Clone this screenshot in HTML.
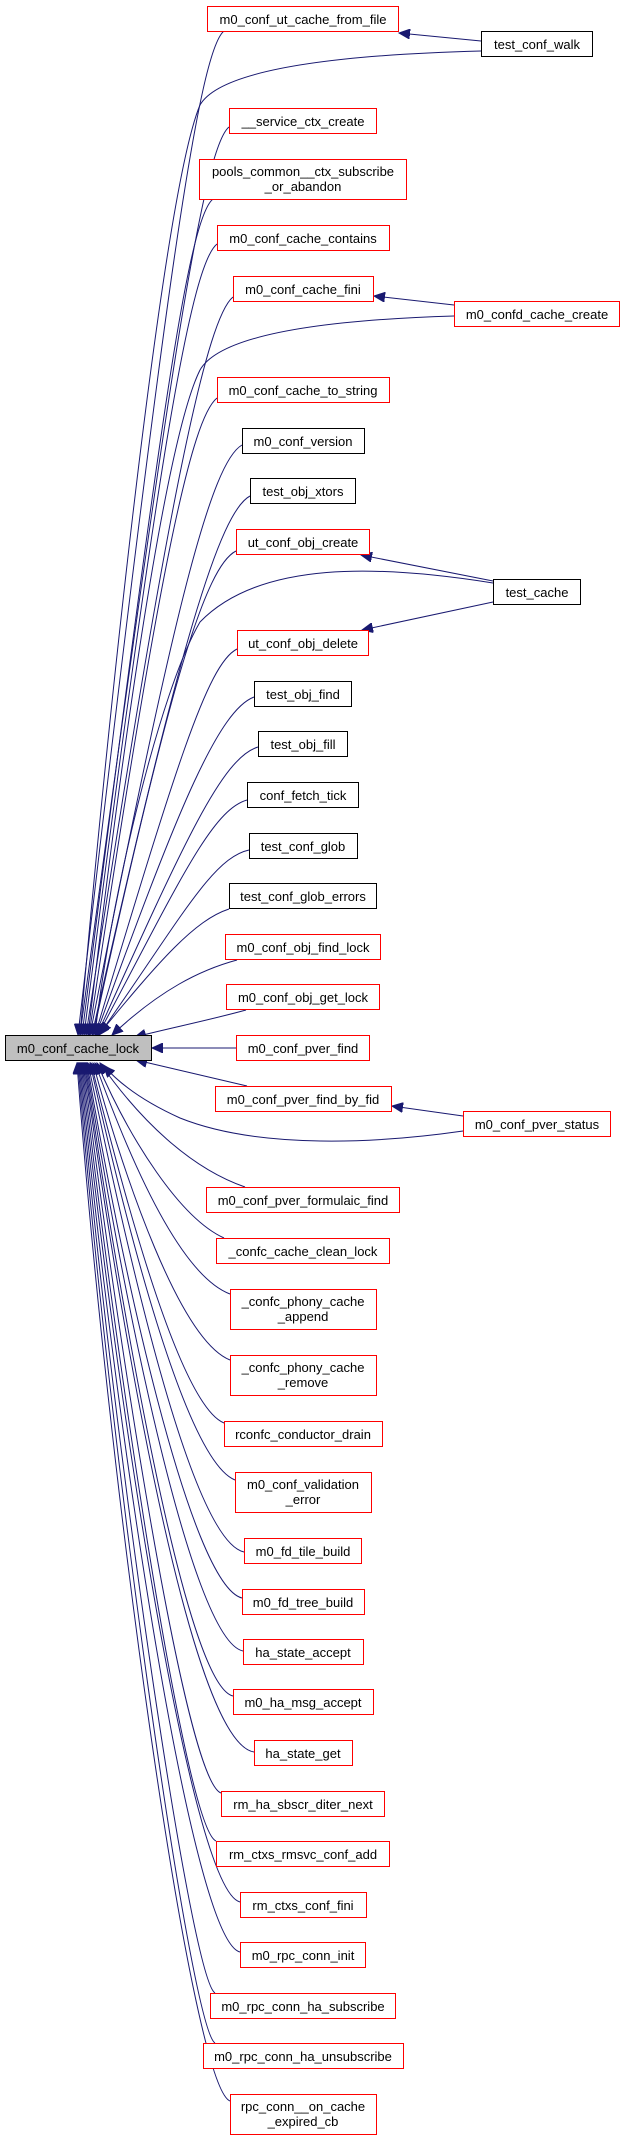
<!DOCTYPE html>
<html><head><meta charset="utf-8"><style>
html,body{margin:0;padding:0;background:#fff;}
svg{display:block;}
text{font-family:"Liberation Sans",Arial,sans-serif;font-size:13px;fill:#000;}
.r{fill:#fff;stroke:#ff0000;stroke-width:1;}
.b{fill:#fff;stroke:#000;stroke-width:1;}
.e{fill:none;stroke:#191970;stroke-width:1;}
</style></head><body>
<svg width="621" height="2142" viewBox="0 0 621 2142" xmlns="http://www.w3.org/2000/svg">
<defs>
<marker id="a" markerUnits="userSpaceOnUse" markerWidth="12" markerHeight="10" refX="11" refY="5" orient="auto">
<path d="M0,0 L11,5 L0,10 Z" fill="#191970" stroke="#191970"/>
</marker>
</defs>
<g class="e" marker-end="url(#a)">
<!-- upper edges -->
<path d="M224,31 C199,51 165,282 78,1035"/>
<path d="M481,51 C330,55 220,70 200,105 C160,200 100,800 80,1035"/>
<path d="M229,127 C204,147 170,360 80,1035"/>
<path d="M213,199 C188,219 160,420 82,1035"/>
<path d="M217,244 C192,264 160,440 84,1035"/>
<path d="M233,297 C208,317 170,480 86,1035"/>
<path d="M454,316 C320,320 220,335 200,370 C160,450 110,850 88,1035"/>
<path d="M217,398 C192,418 160,560 89,1035"/>
<path d="M242,445 C212,462 175,600 90,1035"/>
<path d="M250,496 C220,512 180,640 92,1035"/>
<path d="M236,551 C206,566 170,680 93,1035"/>
<path d="M493,583 C380,565 260,560 200,622 C160,690 110,900 95,1035"/>
<path d="M237,649 C207,664 175,770 95,1035"/>
<path d="M254,697 C220,710 180,800 96,1035"/>
<path d="M258,747 C222,758 185,840 97,1035"/>
<path d="M247,800 C212,810 180,880 98,1035"/>
<path d="M249,850 C212,858 180,920 99,1035"/>
<path d="M229,909 C195,920 160,960 100,1033"/>
<path d="M237,960 C200,970 160,990 112,1035"/>
<path d="M246,1010 C210,1020 170,1028 135,1037"/>
<path d="M236,1048 L152,1048"/>
<path d="M247,1086 L136,1060"/>
<path d="M463,1131 C380,1143 260,1150 180,1118 C140,1100 118,1082 104,1066"/>
<!-- lower edges -->
<path d="M245,1187 C190,1168 140,1120 100,1063"/>
<path d="M224,1238 C180,1218 130,1140 97,1063"/>
<path d="M230,1294 C180,1275 130,1160 95,1063"/>
<path d="M230,1360 C180,1340 125,1180 93,1063"/>
<path d="M224,1423 C180,1405 125,1200 91,1063"/>
<path d="M235,1480 C185,1460 125,1220 90,1063"/>
<path d="M244,1552 C190,1540 125,1240 88,1063"/>
<path d="M242,1598 C190,1585 120,1260 87,1063"/>
<path d="M243,1651 C190,1640 120,1280 86,1063"/>
<path d="M233,1696 C185,1685 120,1300 85,1063"/>
<path d="M254,1752 C190,1742 120,1320 84,1063"/>
<path d="M221,1793 C185,1780 118,1340 83,1063"/>
<path d="M216,1841 C185,1828 116,1360 82,1063"/>
<path d="M240,1902 C190,1890 114,1380 81,1063"/>
<path d="M240,1952 C190,1940 112,1400 80,1063"/>
<path d="M215,1993 C190,1978 110,1420 79,1063"/>
<path d="M215,2043 C190,2028 108,1440 78,1063"/>
<path d="M230,2101 C190,2085 106,1460 77,1063"/>
<!-- right-side edges -->
<path d="M481,41 L399,33"/>
<path d="M454,305 L374,296"/>
<path d="M493,581 L361,555"/>
<path d="M493,602 L362,630"/>
<path d="M463,1116 L392,1106"/>
</g>

<!-- nodes -->
<rect class="r" x="207.5" y="6.5" width="191" height="25"/><text x="303" y="24" text-anchor="middle">m0_conf_ut_cache_from_file</text>
<rect class="b" x="481.5" y="31.5" width="111" height="25"/><text x="537" y="49" text-anchor="middle">test_conf_walk</text>
<rect class="r" x="229.5" y="108.5" width="147" height="25"/><text x="303" y="126" text-anchor="middle">__service_ctx_create</text>
<rect class="r" x="199.5" y="159.5" width="207" height="40"/><text x="303" y="176" text-anchor="middle">pools_common__ctx_subscribe</text><text x="303" y="191" text-anchor="middle">_or_abandon</text>
<rect class="r" x="217.5" y="225.5" width="172" height="25"/><text x="303" y="243" text-anchor="middle">m0_conf_cache_contains</text>
<rect class="r" x="233.5" y="276.5" width="140" height="25"/><text x="303" y="294" text-anchor="middle">m0_conf_cache_fini</text>
<rect class="r" x="454.5" y="301.5" width="165" height="25"/><text x="537" y="319" text-anchor="middle">m0_confd_cache_create</text>
<rect class="r" x="217.5" y="377.5" width="172" height="25"/><text x="303" y="395" text-anchor="middle">m0_conf_cache_to_string</text>
<rect class="b" x="242.5" y="428.5" width="122" height="25"/><text x="303" y="446" text-anchor="middle">m0_conf_version</text>
<rect class="b" x="250.5" y="478.5" width="105" height="25"/><text x="303" y="496" text-anchor="middle">test_obj_xtors</text>
<rect class="r" x="236.5" y="529.5" width="133" height="25"/><text x="303" y="547" text-anchor="middle">ut_conf_obj_create</text>
<rect class="b" x="493.5" y="579.5" width="87" height="25"/><text x="537" y="597" text-anchor="middle">test_cache</text>
<rect class="r" x="237.5" y="630.5" width="131" height="25"/><text x="303" y="648" text-anchor="middle">ut_conf_obj_delete</text>
<rect class="b" x="254.5" y="681.5" width="97" height="25"/><text x="303" y="699" text-anchor="middle">test_obj_find</text>
<rect class="b" x="258.5" y="731.5" width="89" height="25"/><text x="303" y="749" text-anchor="middle">test_obj_fill</text>
<rect class="b" x="247.5" y="782.5" width="111" height="25"/><text x="303" y="800" text-anchor="middle">conf_fetch_tick</text>
<rect class="b" x="249.5" y="833.5" width="108" height="25"/><text x="303" y="851" text-anchor="middle">test_conf_glob</text>
<rect class="b" x="229.5" y="883.5" width="147" height="25"/><text x="303" y="901" text-anchor="middle">test_conf_glob_errors</text>
<rect class="r" x="225.5" y="934.5" width="155" height="25"/><text x="303" y="952" text-anchor="middle">m0_conf_obj_find_lock</text>
<rect class="r" x="226.5" y="984.5" width="153" height="25"/><text x="303" y="1002" text-anchor="middle">m0_conf_obj_get_lock</text>
<rect x="5.5" y="1035.5" width="146" height="25" fill="#bfbfbf" stroke="#000"/><text x="78" y="1053" text-anchor="middle">m0_conf_cache_lock</text>
<rect class="r" x="236.5" y="1035.5" width="133" height="25"/><text x="303" y="1053" text-anchor="middle">m0_conf_pver_find</text>
<rect class="r" x="215.5" y="1086.5" width="176" height="25"/><text x="303" y="1104" text-anchor="middle">m0_conf_pver_find_by_fid</text>
<rect class="r" x="463.5" y="1111.5" width="147" height="25"/><text x="537" y="1129" text-anchor="middle">m0_conf_pver_status</text>
<rect class="r" x="206.5" y="1187.5" width="193" height="25"/><text x="303" y="1205" text-anchor="middle">m0_conf_pver_formulaic_find</text>
<rect class="r" x="216.5" y="1238.5" width="173" height="25"/><text x="303" y="1256" text-anchor="middle">_confc_cache_clean_lock</text>
<rect class="r" x="230.5" y="1289.5" width="146" height="40"/><text x="303" y="1306" text-anchor="middle">_confc_phony_cache</text><text x="303" y="1321" text-anchor="middle">_append</text>
<rect class="r" x="230.5" y="1355.5" width="146" height="40"/><text x="303" y="1372" text-anchor="middle">_confc_phony_cache</text><text x="303" y="1387" text-anchor="middle">_remove</text>
<rect class="r" x="224.5" y="1421.5" width="158" height="25"/><text x="303" y="1439" text-anchor="middle">rconfc_conductor_drain</text>
<rect class="r" x="235.5" y="1472.5" width="136" height="40"/><text x="303" y="1489" text-anchor="middle">m0_conf_validation</text><text x="303" y="1504" text-anchor="middle">_error</text>
<rect class="r" x="244.5" y="1538.5" width="117" height="25"/><text x="303" y="1556" text-anchor="middle">m0_fd_tile_build</text>
<rect class="r" x="242.5" y="1589.5" width="122" height="25"/><text x="303" y="1607" text-anchor="middle">m0_fd_tree_build</text>
<rect class="r" x="243.5" y="1639.5" width="120" height="25"/><text x="303" y="1657" text-anchor="middle">ha_state_accept</text>
<rect class="r" x="233.5" y="1689.5" width="140" height="25"/><text x="303" y="1707" text-anchor="middle">m0_ha_msg_accept</text>
<rect class="r" x="254.5" y="1740.5" width="98" height="25"/><text x="303" y="1758" text-anchor="middle">ha_state_get</text>
<rect class="r" x="221.5" y="1791.5" width="163" height="25"/><text x="303" y="1809" text-anchor="middle">rm_ha_sbscr_diter_next</text>
<rect class="r" x="216.5" y="1841.5" width="173" height="25"/><text x="303" y="1859" text-anchor="middle">rm_ctxs_rmsvc_conf_add</text>
<rect class="r" x="240.5" y="1892.5" width="126" height="25"/><text x="303" y="1910" text-anchor="middle">rm_ctxs_conf_fini</text>
<rect class="r" x="240.5" y="1942.5" width="125" height="25"/><text x="303" y="1960" text-anchor="middle">m0_rpc_conn_init</text>
<rect class="r" x="210.5" y="1993.5" width="185" height="25"/><text x="303" y="2011" text-anchor="middle">m0_rpc_conn_ha_subscribe</text>
<rect class="r" x="203.5" y="2043.5" width="200" height="25"/><text x="303" y="2061" text-anchor="middle">m0_rpc_conn_ha_unsubscribe</text>
<rect class="r" x="230.5" y="2094.5" width="146" height="40"/><text x="303" y="2111" text-anchor="middle">rpc_conn__on_cache</text><text x="303" y="2126" text-anchor="middle">_expired_cb</text>
</svg>
</body></html>
